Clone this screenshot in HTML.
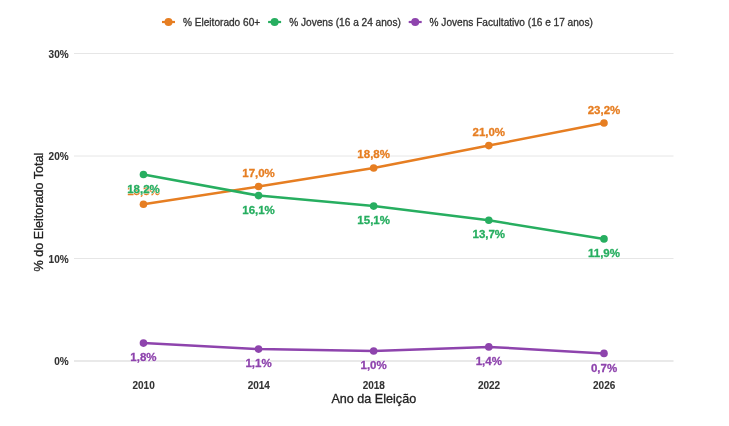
<!DOCTYPE html>
<html><head><meta charset="utf-8"><style>
html,body{margin:0;padding:0;background:#fff;}
body{width:729px;height:426px;overflow:hidden;}
svg{display:block;font-family:"Liberation Sans",sans-serif;will-change:transform;}
</style></head><body>
<svg width="729" height="426" viewBox="0 0 729 426">
<line x1="74" x2="673.5" y1="53.5" y2="53.5" stroke="#e6e6e6" stroke-width="1"/>
<line x1="74" x2="673.5" y1="156.0" y2="156.0" stroke="#e6e6e6" stroke-width="1"/>
<line x1="74" x2="673.5" y1="258.5" y2="258.5" stroke="#e6e6e6" stroke-width="1"/>
<line x1="74" x2="673.5" y1="361.0" y2="361.0" stroke="#e2e2e2" stroke-width="1.4"/>
<text x="68.6" y="57.5" text-anchor="end" font-size="10" font-weight="bold" fill="#333" stroke="#333" stroke-width="0.1">30%</text>
<text x="68.6" y="160.0" text-anchor="end" font-size="10" font-weight="bold" fill="#333" stroke="#333" stroke-width="0.1">20%</text>
<text x="68.6" y="262.5" text-anchor="end" font-size="10" font-weight="bold" fill="#333" stroke="#333" stroke-width="0.1">10%</text>
<text x="68.6" y="365.0" text-anchor="end" font-size="10" font-weight="bold" fill="#333" stroke="#333" stroke-width="0.1">0%</text>
<text x="143.6" y="388.5" text-anchor="middle" font-size="10" font-weight="bold" fill="#333" stroke="#333" stroke-width="0.1">2010</text>
<text x="258.8" y="388.5" text-anchor="middle" font-size="10" font-weight="bold" fill="#333" stroke="#333" stroke-width="0.1">2014</text>
<text x="373.8" y="388.5" text-anchor="middle" font-size="10" font-weight="bold" fill="#333" stroke="#333" stroke-width="0.1">2018</text>
<text x="489.0" y="388.5" text-anchor="middle" font-size="10" font-weight="bold" fill="#333" stroke="#333" stroke-width="0.1">2022</text>
<text x="604.2" y="388.5" text-anchor="middle" font-size="10" font-weight="bold" fill="#333" stroke="#333" stroke-width="0.1">2026</text>
<text x="373.8" y="402.7" text-anchor="middle" font-size="12.6" fill="#222" stroke="#222" stroke-width="0.3">Ano da Eleição</text>
<text x="0" y="0" text-anchor="middle" font-size="12.6" fill="#222" stroke="#222" stroke-width="0.3" transform="translate(42.7,212) rotate(-90)">% do Eleitorado Total</text>
<polyline points="143.45,204.20 258.55,186.50 373.65,168.00 488.80,145.60 604.00,123.00" fill="none" stroke="#E67E22" stroke-width="2.5" stroke-linejoin="round"/>
<circle cx="143.45" cy="204.20" r="3.8" fill="#E67E22"/>
<circle cx="258.55" cy="186.50" r="3.8" fill="#E67E22"/>
<circle cx="373.65" cy="168.00" r="3.8" fill="#E67E22"/>
<circle cx="488.80" cy="145.60" r="3.8" fill="#E67E22"/>
<circle cx="604.00" cy="123.00" r="3.8" fill="#E67E22"/>
<polyline points="143.45,174.50 258.55,195.60 373.65,206.10 488.80,220.30 604.00,238.90" fill="none" stroke="#27AE60" stroke-width="2.5" stroke-linejoin="round"/>
<circle cx="143.45" cy="174.50" r="3.8" fill="#27AE60"/>
<circle cx="258.55" cy="195.60" r="3.8" fill="#27AE60"/>
<circle cx="373.65" cy="206.10" r="3.8" fill="#27AE60"/>
<circle cx="488.80" cy="220.30" r="3.8" fill="#27AE60"/>
<circle cx="604.00" cy="238.90" r="3.8" fill="#27AE60"/>
<polyline points="143.45,343.10 258.55,349.10 373.65,351.00 488.80,346.90 604.00,353.40" fill="none" stroke="#8E44AD" stroke-width="2.5" stroke-linejoin="round"/>
<circle cx="143.45" cy="343.10" r="3.8" fill="#8E44AD"/>
<circle cx="258.55" cy="349.10" r="3.8" fill="#8E44AD"/>
<circle cx="373.65" cy="351.00" r="3.8" fill="#8E44AD"/>
<circle cx="488.80" cy="346.90" r="3.8" fill="#8E44AD"/>
<circle cx="604.00" cy="353.40" r="3.8" fill="#8E44AD"/>
<text x="143.45" y="194.60" text-anchor="middle" font-size="11.5" font-weight="bold" fill="#fff" stroke="#fff" stroke-width="1.1" stroke-linejoin="round">15,3%</text>
<text x="143.45" y="194.60" text-anchor="middle" font-size="11.5" font-weight="bold" fill="#E67E22" stroke="#E67E22" stroke-width="0.3">15,3%</text>
<text x="258.55" y="176.80" text-anchor="middle" font-size="11.5" font-weight="bold" fill="#fff" stroke="#fff" stroke-width="1.1" stroke-linejoin="round">17,0%</text>
<text x="258.55" y="176.80" text-anchor="middle" font-size="11.5" font-weight="bold" fill="#E67E22" stroke="#E67E22" stroke-width="0.3">17,0%</text>
<text x="373.65" y="157.90" text-anchor="middle" font-size="11.5" font-weight="bold" fill="#fff" stroke="#fff" stroke-width="1.1" stroke-linejoin="round">18,8%</text>
<text x="373.65" y="157.90" text-anchor="middle" font-size="11.5" font-weight="bold" fill="#E67E22" stroke="#E67E22" stroke-width="0.3">18,8%</text>
<text x="488.80" y="135.70" text-anchor="middle" font-size="11.5" font-weight="bold" fill="#fff" stroke="#fff" stroke-width="1.1" stroke-linejoin="round">21,0%</text>
<text x="488.80" y="135.70" text-anchor="middle" font-size="11.5" font-weight="bold" fill="#E67E22" stroke="#E67E22" stroke-width="0.3">21,0%</text>
<text x="604.00" y="113.50" text-anchor="middle" font-size="11.5" font-weight="bold" fill="#fff" stroke="#fff" stroke-width="1.1" stroke-linejoin="round">23,2%</text>
<text x="604.00" y="113.50" text-anchor="middle" font-size="11.5" font-weight="bold" fill="#E67E22" stroke="#E67E22" stroke-width="0.3">23,2%</text>
<text x="143.45" y="193.40" text-anchor="middle" font-size="11.5" font-weight="bold" fill="#fff" stroke="#fff" stroke-width="1.1" stroke-linejoin="round">18,2%</text>
<text x="143.45" y="193.40" text-anchor="middle" font-size="11.5" font-weight="bold" fill="#27AE60" stroke="#27AE60" stroke-width="0.3">18,2%</text>
<text x="258.55" y="213.70" text-anchor="middle" font-size="11.5" font-weight="bold" fill="#fff" stroke="#fff" stroke-width="1.1" stroke-linejoin="round">16,1%</text>
<text x="258.55" y="213.70" text-anchor="middle" font-size="11.5" font-weight="bold" fill="#27AE60" stroke="#27AE60" stroke-width="0.3">16,1%</text>
<text x="373.65" y="224.40" text-anchor="middle" font-size="11.5" font-weight="bold" fill="#fff" stroke="#fff" stroke-width="1.1" stroke-linejoin="round">15,1%</text>
<text x="373.65" y="224.40" text-anchor="middle" font-size="11.5" font-weight="bold" fill="#27AE60" stroke="#27AE60" stroke-width="0.3">15,1%</text>
<text x="488.80" y="238.30" text-anchor="middle" font-size="11.5" font-weight="bold" fill="#fff" stroke="#fff" stroke-width="1.1" stroke-linejoin="round">13,7%</text>
<text x="488.80" y="238.30" text-anchor="middle" font-size="11.5" font-weight="bold" fill="#27AE60" stroke="#27AE60" stroke-width="0.3">13,7%</text>
<text x="604.00" y="256.60" text-anchor="middle" font-size="11.5" font-weight="bold" fill="#fff" stroke="#fff" stroke-width="1.1" stroke-linejoin="round">11,9%</text>
<text x="604.00" y="256.60" text-anchor="middle" font-size="11.5" font-weight="bold" fill="#27AE60" stroke="#27AE60" stroke-width="0.3">11,9%</text>
<text x="143.45" y="360.90" text-anchor="middle" font-size="11.5" font-weight="bold" fill="#fff" stroke="#fff" stroke-width="1.1" stroke-linejoin="round">1,8%</text>
<text x="143.45" y="360.90" text-anchor="middle" font-size="11.5" font-weight="bold" fill="#8E44AD" stroke="#8E44AD" stroke-width="0.3">1,8%</text>
<text x="258.55" y="367.10" text-anchor="middle" font-size="11.5" font-weight="bold" fill="#fff" stroke="#fff" stroke-width="1.1" stroke-linejoin="round">1,1%</text>
<text x="258.55" y="367.10" text-anchor="middle" font-size="11.5" font-weight="bold" fill="#8E44AD" stroke="#8E44AD" stroke-width="0.3">1,1%</text>
<text x="373.65" y="369.20" text-anchor="middle" font-size="11.5" font-weight="bold" fill="#fff" stroke="#fff" stroke-width="1.1" stroke-linejoin="round">1,0%</text>
<text x="373.65" y="369.20" text-anchor="middle" font-size="11.5" font-weight="bold" fill="#8E44AD" stroke="#8E44AD" stroke-width="0.3">1,0%</text>
<text x="488.80" y="364.90" text-anchor="middle" font-size="11.5" font-weight="bold" fill="#fff" stroke="#fff" stroke-width="1.1" stroke-linejoin="round">1,4%</text>
<text x="488.80" y="364.90" text-anchor="middle" font-size="11.5" font-weight="bold" fill="#8E44AD" stroke="#8E44AD" stroke-width="0.3">1,4%</text>
<text x="604.00" y="371.70" text-anchor="middle" font-size="11.5" font-weight="bold" fill="#fff" stroke="#fff" stroke-width="1.1" stroke-linejoin="round">0,7%</text>
<text x="604.00" y="371.70" text-anchor="middle" font-size="11.5" font-weight="bold" fill="#8E44AD" stroke="#8E44AD" stroke-width="0.3">0,7%</text>
<line x1="162.0" x2="175.0" y1="22" y2="22" stroke="#E67E22" stroke-width="2.2"/>
<circle cx="168.5" cy="22" r="4" fill="#E67E22"/>
<text x="183" y="25.8" font-size="10.1" fill="#333" stroke="#333" stroke-width="0.3">% Eleitorado 60+</text>
<line x1="268.1" x2="281.1" y1="22" y2="22" stroke="#27AE60" stroke-width="2.2"/>
<circle cx="274.6" cy="22" r="4" fill="#27AE60"/>
<text x="289.2" y="25.8" font-size="10.1" fill="#333" stroke="#333" stroke-width="0.3">% Jovens (16 a 24 anos)</text>
<line x1="408.7" x2="421.7" y1="22" y2="22" stroke="#8E44AD" stroke-width="2.2"/>
<circle cx="415.2" cy="22" r="4" fill="#8E44AD"/>
<text x="429.6" y="25.8" font-size="10.1" fill="#333" stroke="#333" stroke-width="0.3">% Jovens Facultativo (16 e 17 anos)</text>
</svg>
</body></html>
